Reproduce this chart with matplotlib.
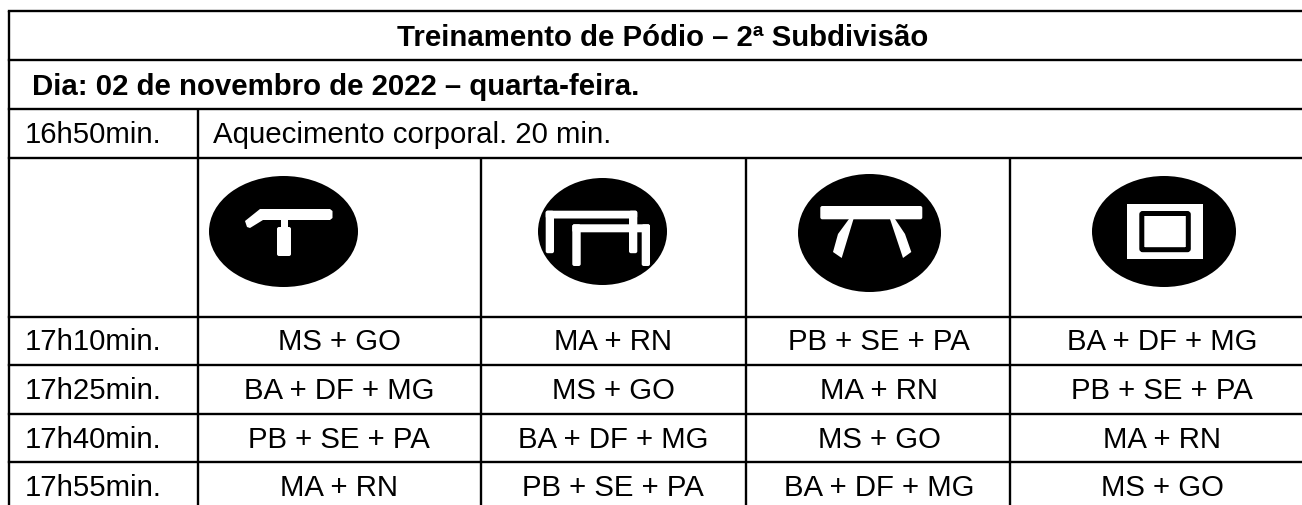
import matplotlib
matplotlib.use("Agg")
import matplotlib.pyplot as plt
from matplotlib.patches import Ellipse, FancyBboxPatch, Polygon, Rectangle

title = "Treinamento de Pódio – 2ª Subdivisão"
day = "Dia: 02 de novembro de 2022 – quarta-feira."
warmup_time = "16h50min."
warmup_text = "Aquecimento corporal. 20 min."
times = ["17h10min.", "17h25min.", "17h40min.", "17h55min."]
rotation = [
    ["MS + GO", "MA + RN", "PB + SE + PA", "BA + DF + MG"],
    ["BA + DF + MG", "MS + GO", "MA + RN", "PB + SE + PA"],
    ["PB + SE + PA", "BA + DF + MG", "MS + GO", "MA + RN"],
    ["MA + RN", "PB + SE + PA", "BA + DF + MG", "MS + GO"],
]

# table layout, in pixels of the picture
W, H = 1302, 506
left, right = 9, 1302
col_x = [197.5, 481, 745.5, 1010]
row_y = [12, 61, 109.5, 159, 317.5, 366, 415, 463]
centers = [339, 613, 879, 1162]
lw = 1.7
fs = 21.2

plt.rcParams["font.family"] = ["Liberation Sans", "DejaVu Sans"]
fig = plt.figure(figsize=(W / 100, H / 100), dpi=100)
ax = fig.add_axes([0, 0, 1, 1])
ax.set_xlim(0, W)
ax.set_ylim(H, 0)
ax.axis("off")


def white(patch):
    patch.set(fc="white", ec="none", zorder=3)
    ax.add_patch(patch)


def bar(x, y, w, h):
    white(FancyBboxPatch((x + 2, y + 2), w - 4, h - 4, boxstyle="round,pad=2"))


for y in row_y:
    ax.plot([left, right], [y, y], color="black", lw=lw, solid_capstyle="projecting")
ax.plot([left, left], [row_y[0], H + 2], color="black", lw=lw, solid_capstyle="butt")
ax.plot([col_x[0], col_x[0]], [row_y[2], H + 2], color="black", lw=lw, solid_capstyle="butt")
for x in col_x[1:]:
    ax.plot([x, x], [row_y[3], H + 2], color="black", lw=lw, solid_capstyle="butt")

ax.text(663, 37.5, title, ha="center", va="center", fontsize=fs, fontweight="bold")
ax.text(32, 86.5, day, ha="left", va="center", fontsize=fs, fontweight="bold")
ax.text(25, 135, warmup_time, ha="left", va="center", fontsize=fs)
ax.text(213, 135, warmup_text, ha="left", va="center", fontsize=fs)

for i, t in enumerate(times):
    ymid = row_y[4 + i] + 25
    ax.text(25, ymid, t, ha="left", va="center", fontsize=fs)
    for cx, label in zip(centers, rotation[i]):
        ax.text(cx, ymid, label, ha="center", va="center", fontsize=fs)

# apparatus icons
for cx, cy, w, h in [(283.5, 232.5, 149, 111), (602.5, 232.5, 129, 107),
                     (869.5, 234, 143, 118), (1164, 232.5, 144, 111)]:
    ax.add_patch(Ellipse((cx, cy), w, h, fc="black", ec="none", zorder=2))

# pommel horse
white(Polygon([(245, 222), (260, 210), (330, 210), (332.5, 212), (332.5, 219), (330, 221),
               (263, 221), (250, 229), (247, 228)]))
bar(277, 228, 14, 29)
white(Rectangle((280.5, 220), 7.5, 10))

# parallel bars
bar(545.7, 211.7, 91.5, 7.8)
bar(545.7, 211.7, 8.3, 42.5)
bar(629, 211.7, 8.3, 42.5)
bar(572.3, 225.3, 77.7, 8)
bar(572.3, 225.3, 8.4, 41.7)
bar(641.7, 225.3, 8.3, 41.7)

# beam
bar(820.3, 207, 102, 13.3)
white(Polygon([(849, 220), (853.5, 220), (841.7, 259), (833, 253), (838, 235)]))
white(Polygon([(890, 220), (895, 220), (905, 235), (911.3, 253), (903, 259)]))

# floor
white(Rectangle((1127.3, 204.7), 75.4, 55.6))
floor_mat = FancyBboxPatch((1142.8, 215.5), 44.5, 34.2, boxstyle="round,pad=1",
                           fc="white", ec="black", lw=3.6, zorder=4)
ax.add_patch(floor_mat)

fig.savefig("out.png", dpi=100, facecolor="white")
